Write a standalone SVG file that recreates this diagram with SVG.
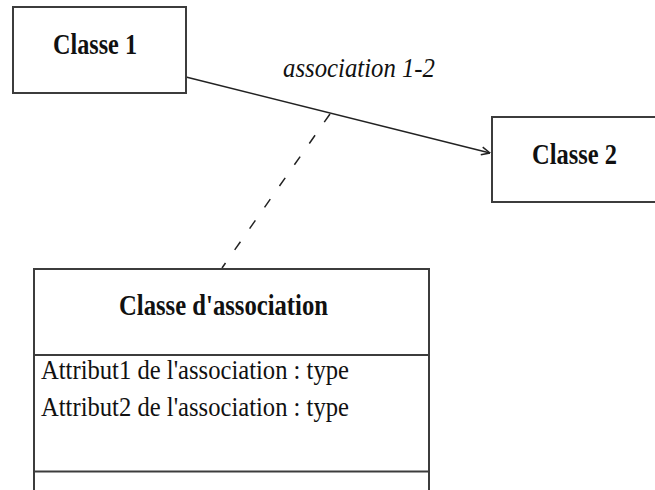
<svg xmlns="http://www.w3.org/2000/svg" width="655" height="490" viewBox="0 0 655 490">
<style>
.box{fill:#fff;stroke:#3c3c3c;stroke-width:2}
.div{stroke:#3c3c3c;stroke-width:2}
.t{font-family:"Liberation Serif","Times New Roman",serif;fill:#111}
.b{font-weight:bold;font-size:29px}
.r{font-size:28px}
.i{font-style:italic;font-size:27px}
.ln{stroke:#222;stroke-width:1.5;fill:none}
</style>
<defs>
<marker id="open" viewBox="0 0 10 10" refX="9.5" refY="5" markerWidth="10" markerHeight="10" markerUnits="userSpaceOnUse" orient="auto">
<path d="M1,1 L9.5,5 L1,9" fill="none" stroke="#222" stroke-width="1.5"/>
</marker>
</defs>
<rect width="655" height="490" fill="#fff"/>
<g id="connectors">
<line class="ln" x1="330" y1="114" x2="222" y2="268" stroke-dasharray="10 16"/>
<line class="ln" x1="186" y1="77" x2="490" y2="153" marker-end="url(#open)"/>
<text class="t i" x="283" y="77" textLength="152" lengthAdjust="spacingAndGlyphs">association 1-2</text>
</g>
<g id="classe1">
<rect class="box" x="13" y="7" width="173" height="86"/>
<text class="t b" x="53" y="54" textLength="84" lengthAdjust="spacingAndGlyphs">Classe 1</text>
</g>
<g id="classe2">
<rect class="box" x="492" y="117" width="175" height="85"/>
<text class="t b" x="532" y="164" textLength="85" lengthAdjust="spacingAndGlyphs">Classe 2</text>
</g>
<g id="classe-association">
<rect class="box" x="34" y="269" width="395" height="240"/>
<line class="div" x1="34" y1="355" x2="429" y2="355"/>
<line class="div" x1="34" y1="471.5" x2="429" y2="471.5"/>
<text class="t b" x="119" y="315" textLength="209" lengthAdjust="spacingAndGlyphs">Classe d'association</text>
<text class="t r" x="41" y="379" textLength="308" lengthAdjust="spacingAndGlyphs">Attribut1 de l'association : type</text>
<text class="t r" x="41" y="416" textLength="308" lengthAdjust="spacingAndGlyphs">Attribut2 de l'association : type</text>
</g>
</svg>
